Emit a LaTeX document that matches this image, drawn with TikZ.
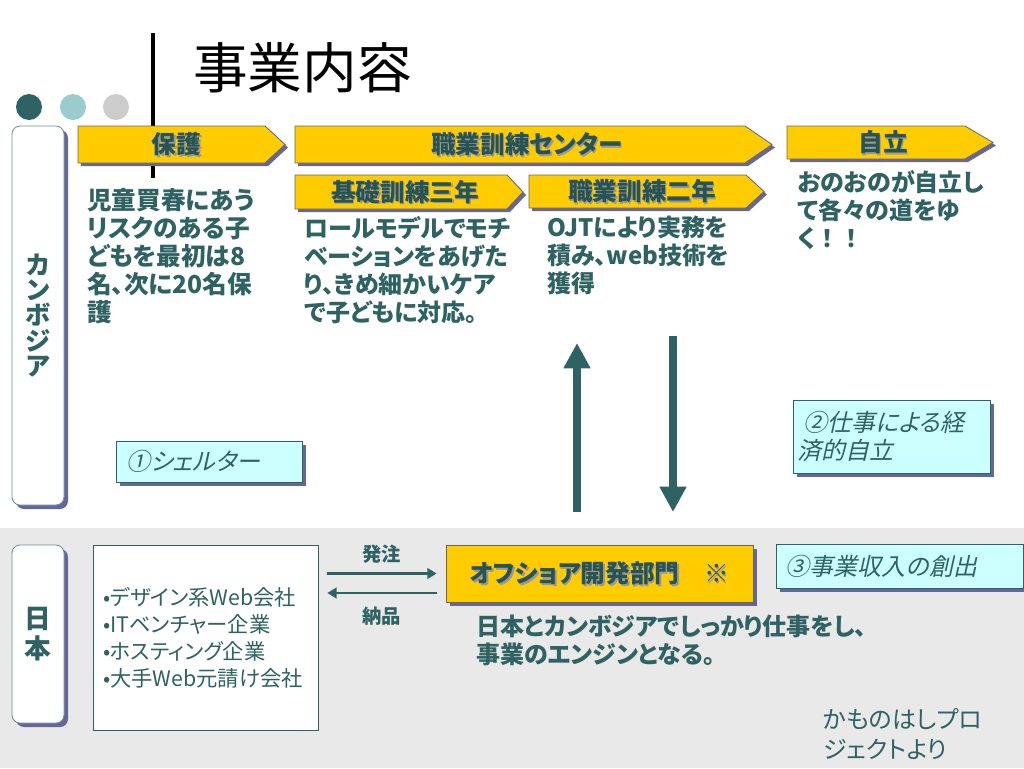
\documentclass[tikz,border=0pt]{standalone}
\usepackage{fontspec}
\setmainfont{Noto Sans CJK JP}[RawFeature=+palt]
\usetikzlibrary{arrows.meta,calc,shadows}
\definecolor{tealc}{HTML}{2F6262}
\definecolor{yellowc}{HTML}{FFCC00}
\definecolor{shadowc}{HTML}{666699}
\definecolor{cyanc}{HTML}{CCFFFF}
\definecolor{bandc}{HTML}{E9E9E9}
\definecolor{dotA}{HTML}{2F6262}
\definecolor{dotB}{HTML}{99CCCC}
\definecolor{dotC}{HTML}{CCCCCC}
\tikzset{
  bannerbox/.style={draw=black!60, line width=0.6pt, fill=yellowc},
  bannertext/.style={text=tealc!85!black, font=\bfseries\fontsize{18.5}{20}\selectfont, inner sep=0pt},
  textshadow/.style={bannertext, text=black!40},
  bodytext/.style={anchor=north west, inner sep=0pt, align=left, text=tealc, font=\bfseries\fontsize{18}{21}\selectfont},
  pshadow/.style={drop shadow={shadow xshift=3pt, shadow yshift=-3pt, fill=shadowc, opacity=1}},
  labelbox/.style={draw=tealc!70, line width=0.6pt, fill=white, rounded corners=6pt, pshadow, text=tealc, align=center, minimum width=39pt, inner sep=0pt},
  cyanbox/.style={draw=tealc, line width=0.6pt, fill=cyanc, pshadow, inner sep=0pt},
  slanttext/.style={xslant=0.22, transform shape, anchor=west, inner xsep=9pt, inner ysep=0pt, text=tealc, align=left, font=\fontsize{18}{21}\selectfont},
  bigarrow/.style={draw=tealc, line width=6pt, -{Triangle[width=19pt,length=19pt]}},
  flow/.style={draw=tealc, line width=2.2pt, -{Triangle[width=8pt,length=7pt]}, shorten <=6.75pt, shorten >=6.75pt},
  flowlabel/.style={text=tealc, font=\bfseries\fontsize{14.5}{16}\selectfont}
}
\def\banner(#1,#2,#3,#4,#5)#6#7{%
  \begin{scope}[shift={(3,3)}]
    \fill[shadowc] (#1,#2) -- (#3,#2) -- (#4,{(#2+#5)/2}) -- (#3,#5) -- (#1,#5) -- cycle;
  \end{scope}
  \draw[bannerbox] (#1,#2) -- (#3,#2) -- (#4,{(#2+#5)/2}) -- (#3,#5) -- (#1,#5) -- cycle;
  \node[textshadow] (#6-sh) at ({(2*#1+#3+#4)/4+1.5},{(#2+#5)/2+1.5}) {#7};
  \node[bannertext] (#6) at ({(2*#1+#3+#4)/4},{(#2+#5)/2}) {#7};}
\begin{document}
\begin{tikzpicture}[x=0.75pt, y=-0.75pt]
		%%%%% START %%%%%
		\useasboundingbox (0,0) rectangle (1024,768);
		\fill[white] (0,0) rectangle (1024,768);
		\fill[bandc] (0,528) rectangle (1024,768);
		
		% heading
		\node[anchor=west, inner sep=0pt, font=\fontsize{41}{41}\selectfont] (title) at (193,68) {事業内容};
		\draw[line width=2.4pt] (153,33) -- (153,178);
		\foreach \x/\c in {29/dotA,73/dotB,116/dotC}
			\fill[\c] (\x,107) circle (13);
		
		% country labels
		\node[labelbox, minimum height=284.25pt, font=\bfseries\fontsize{19}{19}\selectfont] (cambodia) at (38,315.5) {カ\\ン\\ボ\\ジ\\ア};
		\node[labelbox, minimum height=133.5pt, font=\bfseries\fontsize{20}{22.5}\selectfont] (japan) at (38,634) {日\\本};
		
		% stages
		\banner(78,126,265,285,163){protect}{保護}
		\banner(295,126,745,772,163){center}{職業訓練センター}
		\banner(295,175,507,523,209){basic}{基礎訓練三年}
		\banner(529,175,746,764,208){vocation}{職業訓練二年}
		\banner(787,126,965,993,159){independ}{自立}
		
		\node[bodytext, font=\bfseries\fontsize{18.5}{21}\selectfont] (protecttxt) at (87,188) {児童買春にあう\\リスクのある子\\どもを最初は8\\名、次に20名保\\護};
		\node[bodytext] (basictxt) at (304,216) {ロールモデルでモチ\\ベーションをあげた\\り、きめ細かいケア\\で子どもに対応。};
		\node[bodytext] (vocationtxt) at (547,216) {OJTにより実務を\\積み、web技術を\\獲得};
		\node[bodytext] (independtxt) at (797,170) {おのおのが自立し\\て各々の道をゆ\\く{\addfontfeature{RawFeature=-palt}！！}};
		
		% between the two countries
		\coordinate (upfoot) at (577,512);
		\coordinate (uptip) at (577,343);
		\coordinate (downtop) at (673,336);
		\coordinate (downtip) at (673,512);
		\draw[bigarrow] (upfoot) -- (uptip);
		\draw[bigarrow] (downtop) -- (downtip);
		
		\node[cyanbox, minimum width=139.5pt, minimum height=30.75pt] (shelter) at (209,461.5) {};
		\node[slanttext, inner xsep=9.75pt] (sheltertxt) at (shelter.west) {①シェルター};
		\node[cyanbox, minimum width=147.75pt, minimum height=54.75pt] (work) at (891.5,436.5) {};
		\node[slanttext, inner xsep=7pt] (worktxt) at (work.west) {②仕事による経\\済的自立};
		
		% japan side
		\node[draw=tealc, line width=0.5pt, fill=white, text=tealc, align=left, inner xsep=7.5pt, text width=153.75pt, minimum height=138.75pt, font=\fontsize{16}{20.25}\selectfont] (clients) at (205.5,637.5) {•デザイン系Web会社\\•ITベンチャー企業\\•ホスティング企業\\•大手Web元請け会社};
		\node[draw=black!60, line width=0.6pt, fill=yellowc, pshadow, minimum width=230.25pt, minimum height=42.75pt] (offshore) at (599.5,573.5) {};
		\node[textshadow] (offshore-sh) at ($(offshore.center)+(1.5,1.5)$) {オフショア開発部門　※};
		\node[bannertext] (offshoretxt) at (offshore.center) {オフショア開発部門　※};
		\node[cyanbox, minimum width=185.25pt, minimum height=33pt] (income) at (899.5,566) {};
		\node[slanttext] (incometxt) at (income.west) {③事業収入の創出};
		
		\draw[flow] (clients.east |- offshore.west) -- (offshore.west) node[midway, above=3pt, flowlabel] (order) {発注};
		\draw[flow] ($(offshore.west)+(0,19.5)$) -- ($(offshore.west -| clients.east)+(0,19.5)$) node[midway, below=6pt, flowlabel] (deliver) {納品};
		
		\node[bodytext] (engine) at (476,615) {日本とカンボジアでしっかり仕事をし、\\事業のエンジンとなる。};
		\node[anchor=north west, inner sep=0pt, align=left, text=tealc, font=\fontsize{18}{22.5}\selectfont] (source) at (823,708) {かものはしプロ\\ジェクトより};
		%%%%% END %%%%%
	\end{tikzpicture}
\end{document}
